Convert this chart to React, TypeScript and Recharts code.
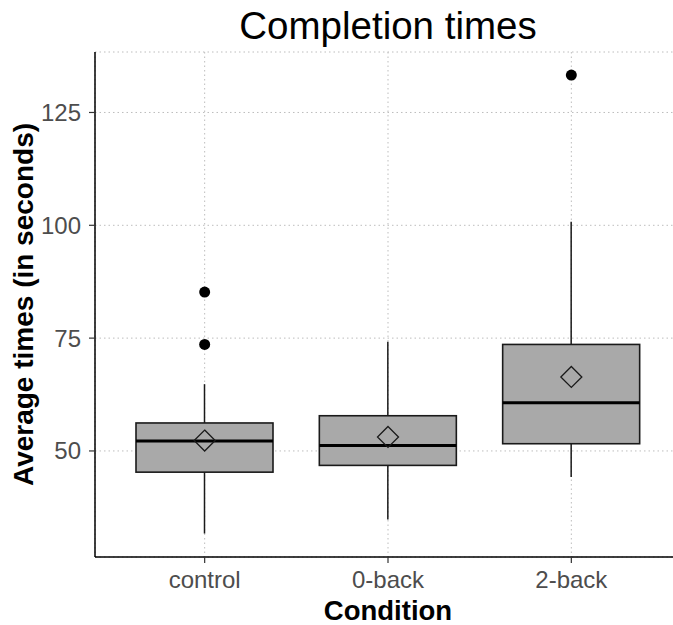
import React from 'react';
import { ComposedChart, Bar, Scatter, XAxis, YAxis, CartesianGrid, Label } from 'recharts';

const categories = ['control', '0-back', '2-back'];
const whiskerLow = [31.7, 34.8, 44.2];
const q1Values = [45.3, 46.8, 51.6];
const medianValues = [52.2, 51.2, 60.7];
const q3Values = [56.2, 57.8, 73.6];
const whiskerHigh = [64.8, 74.2, 100.8];
const meanValues = [52.3, 53.1, 66.4];
const outlierCategories = ['control', 'control', '2-back'];
const outlierValues = [85.2, 73.6, 133.3];
const yTicks = [50, 75, 100, 125];
const yDomain = [26.5, 138.4];

const rows = categories.map((name, i) => ({
  name,
  range: [whiskerLow[i], whiskerHigh[i]],
  lo: whiskerLow[i],
  hi: whiskerHigh[i],
  q1: q1Values[i],
  median: medianValues[i],
  q3: q3Values[i],
  mean: meanValues[i],
}));

const outlierRows = outlierCategories.map((name, i) => ({ name, value: outlierValues[i] }));

const FONT = "'Liberation Sans', Arial, Helvetica, sans-serif";

const BoxShape = (props: any) => {
  const { x, y, width, height, payload } = props;
  if (!payload || x == null || y == null) return <g />;
  const { lo, hi, q1, q3, median } = payload;
  const top = Math.min(y, y + height);
  const h = Math.abs(height);
  const k = h / (hi - lo);
  const toY = (v: number) => top + (hi - v) * k;
  const cx = x + width / 2;
  return (
    <g>
      <line x1={cx} x2={cx} y1={toY(hi)} y2={toY(q3)} stroke="#1a1a1a" strokeWidth={1.5} />
      <line x1={cx} x2={cx} y1={toY(q1)} y2={toY(lo)} stroke="#1a1a1a" strokeWidth={1.5} />
      <rect x={x} y={toY(q3)} width={width} height={toY(q1) - toY(q3)} fill="#A9A9A9" stroke="#1a1a1a" strokeWidth={1.6} />
      <line x1={x} x2={x + width} y1={toY(median)} y2={toY(median)} stroke="#000" strokeWidth={3} />
    </g>
  );
};

const MeanShape = (props: any) => {
  const { cx, cy } = props;
  if (cx == null || cy == null || isNaN(cy)) return <g />;
  const r = 10.5;
  return (
    <polygon
      points={`${cx},${cy - r} ${cx + r},${cy} ${cx},${cy + r} ${cx - r},${cy}`}
      fill="none"
      stroke="#1a1a1a"
      strokeWidth={1.3}
    />
  );
};

const OutlierShape = (props: any) => {
  const { cx, cy } = props;
  if (cx == null || cy == null || isNaN(cy)) return <g />;
  return <circle cx={cx} cy={cy} r={5.5} fill="#000" />;
};

export default function App() {
  return (
    <div style={{ position: 'absolute', left: 0, top: 0, width: 673, height: 625, overflow: 'hidden', background: '#fff', fontFamily: FONT }}>
      <div
        style={{
          position: 'absolute',
          left: 95,
          width: 586,
          top: 7,
          textAlign: 'center',
          fontSize: 38.5,
          lineHeight: 1,
          color: '#000',
          fontFamily: FONT,
          zIndex: 2,
        }}
      >
        Completion times
      </div>
      <ComposedChart
        width={690}
        height={625}
        data={rows}
        margin={{ top: 52, right: 9, bottom: 0, left: 0 }}
        style={{ fontFamily: FONT }}
      >
        <CartesianGrid stroke="#bdbdbd" strokeDasharray="1.5 3" strokeWidth={1} />
        <XAxis
          dataKey="name"
          type="category"
          allowDuplicatedCategory={false}
          height={68}
          interval={0}
          padding={{ left: 18, right: 18 }}
          tickSize={6}
          tickMargin={8}
          axisLine={{ stroke: '#000', strokeWidth: 1.5 }}
          tickLine={{ stroke: '#333', strokeWidth: 1.2 }}
          tick={{ fill: '#4d4d4d', fontSize: 24, fontFamily: FONT }}
        >
          <Label
            value="Condition"
            position="insideBottom"
            offset={5}
            style={{ fontWeight: 'bold', fontSize: 27.5, fill: '#000', fontFamily: FONT }}
          />
        </XAxis>
        <YAxis
          type="number"
          width={95}
          domain={yDomain}
          ticks={yTicks}
          allowDataOverflow
          tickSize={6}
          tickMargin={8}
          axisLine={{ stroke: '#000', strokeWidth: 1.5 }}
          tickLine={{ stroke: '#333', strokeWidth: 1.2 }}
          tick={{ fill: '#4d4d4d', fontSize: 24, fontFamily: FONT }}
        >
          <Label
            value="Average times (in seconds)"
            angle={-90}
            position="insideLeft"
            offset={23}
            style={{ fontWeight: 'bold', fontSize: 28, fill: '#000', textAnchor: 'middle', fontFamily: FONT }}
          />
        </YAxis>
        <Bar dataKey="range" barSize={137} shape={BoxShape} isAnimationActive={false} />
        <Scatter dataKey="mean" shape={MeanShape} isAnimationActive={false} />
        <Scatter data={outlierRows} dataKey="value" shape={OutlierShape} isAnimationActive={false} />
      </ComposedChart>
    </div>
  );
}
